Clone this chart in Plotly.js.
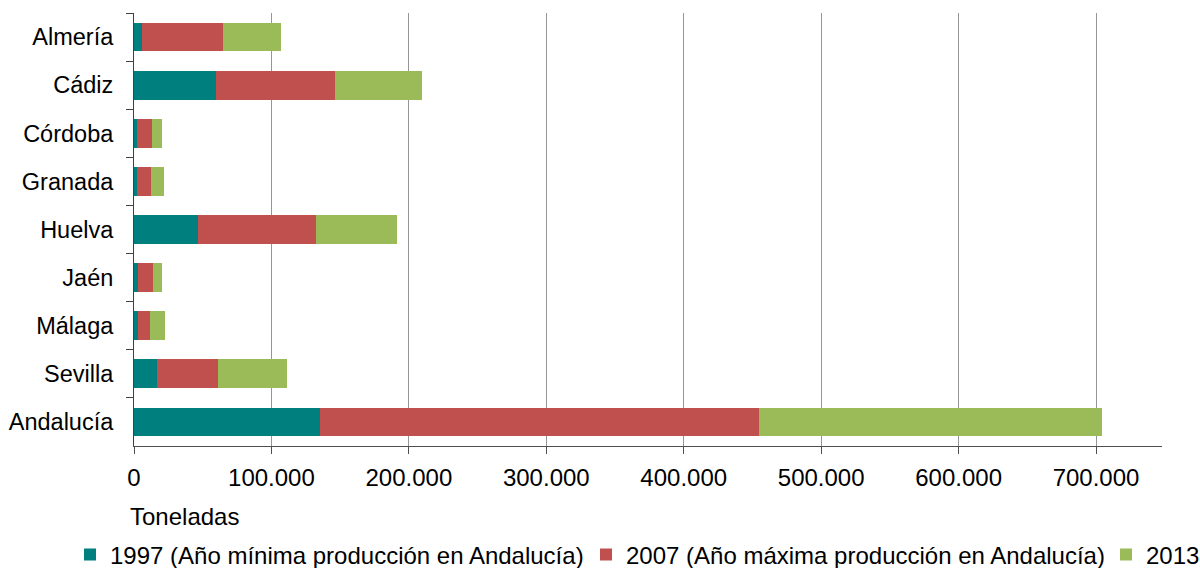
<!DOCTYPE html>
<html>
<head>
<meta charset="utf-8">
<script src="https://cdn.plot.ly/plotly-3.0.1.min.js"></script>
<style>
html,body{margin:0;padding:0;background:#fff;}
#chart{width:1200px;height:568px;}
</style>
</head>
<body>
<div id="chart"></div>
<script>
const provincias = ["Almería","Cádiz","Córdoba","Granada","Huelva","Jaén","Málaga","Sevilla","Andalucía"];
const serieNombres = ["1997 (Año mínima producción en Andalucía)","2007 (Año máxima producción en Andalucía)","2013"];
const v1997 = [5800, 59600, 2200, 2200, 46800, 2900, 2900, 17000, 135500];
const v2007 = [58900, 86800, 11100, 10200, 85600, 11100, 9000, 43900, 319000];
const v2013 = [42500, 63300, 7300, 9600, 58600, 6600, 10900, 50600, 250000];
const colores = ["#007F7F","#C0504D","#9BBB59"];
const ejeTitulo = "Toneladas";
const xTicks = [0,100000,200000,300000,400000,500000,600000,700000];

const valores = [v1997, v2007, v2013];
const FONT = "Liberation Sans, Arial, sans-serif";
const legendIds = ["legend","legend2","legend3"];
const legendX = [70, 586, 1106];

const traces = valores.map((v, i) => ({
  type: "bar",
  orientation: "h",
  name: serieNombres[i],
  legend: legendIds[i],
  y: provincias,
  x: v,
  marker: {color: colores[i], line: {width: 0}}
}));

function mkLegend(px) {
  return {
    orientation: "h",
    xref: "container", yref: "container",
    x: px / 1200, xanchor: "left",
    y: 1 - 555 / 568, yanchor: "middle",
    font: {family: FONT, size: 24, color: "#000"},
    bgcolor: "rgba(0,0,0,0)",
    itemclick: false
  };
}

const layout = {
  width: 1200, height: 568,
  barmode: "stack",
  bargap: 0.4,
  separators: ",.",
  paper_bgcolor: "#fff",
  plot_bgcolor: "#fff",
  margin: {l: 134, r: 38, t: 13, b: 122, autoexpand: false},
  font: {family: FONT, size: 24, color: "#000"},
  xaxis: {
    range: [0, 748000],
    tickvals: xTicks,
    tickformat: ",d",
    showgrid: true,
    gridcolor: "#969696",
    gridwidth: 1,
    zeroline: false,
    showline: true,
    linecolor: "#505050",
    linewidth: 1,
    ticks: "outside",
    ticklen: 7,
    tickcolor: "#505050",
    ticklabelstandoff: 3,
    automargin: false,
    tickfont: {family: FONT, size: 24, color: "#000"}
  },
  yaxis: {
    type: "category",
    autorange: "reversed",
    showline: true,
    linecolor: "#404040",
    linewidth: 1,
    ticks: "outside",
    tickson: "boundaries",
    ticklen: 7,
    tickcolor: "#404040",
    showgrid: false,
    ticklabelstandoff: 15,
    automargin: false,
    tickfont: {family: FONT, size: 23.5, color: "#000"}
  },
  showlegend: true,
  legend: mkLegend(legendX[0]),
  legend2: mkLegend(legendX[1]),
  legend3: mkLegend(legendX[2]),
  annotations: [{
    text: ejeTitulo,
    xref: "paper", yref: "paper",
    x: 0, y: -(516 - 446) / 433,
    xanchor: "left", yanchor: "middle",
    xshift: -6,
    showarrow: false,
    font: {family: FONT, size: 24, color: "#000"}
  }]
};

Plotly.newPlot("chart", traces, layout, {displayModeBar: false, staticPlot: true});
</script>
</body>
</html>
